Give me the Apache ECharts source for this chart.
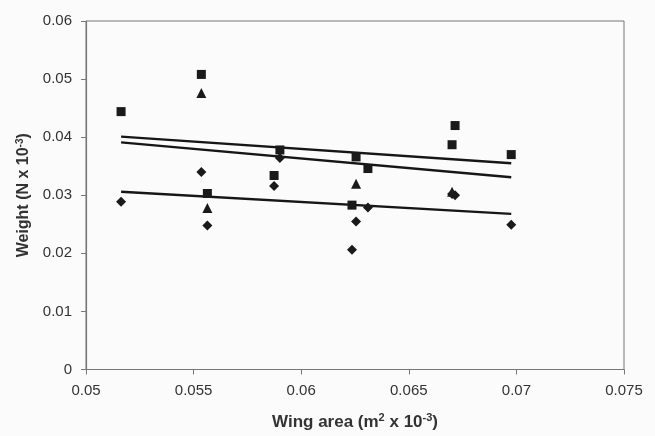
<!DOCTYPE html>
<html>
<head>
<meta charset="utf-8">
<script src="https://cdn.jsdelivr.net/npm/echarts@6/dist/echarts.min.js"></script>
<style>
html,body{margin:0;padding:0;background:#fbfbfb;}
#c{width:655px;height:436px;}
</style>
</head>
<body>
<div id="c"></div>
<script>
// Wing area (m^2 x 10^-3) and weight (N x 10^-3)
const squareData = [
  [0.05163, 0.0444], [0.05536, 0.0508], [0.05564, 0.0303], [0.05874, 0.0334],
  [0.05901, 0.0378], [0.06236, 0.0283], [0.06255, 0.0366], [0.06310, 0.0346],
  [0.06701, 0.0387], [0.06715, 0.0420], [0.06976, 0.0370]
];
const triangleData = [
  [0.05536, 0.0476], [0.05564, 0.0278], [0.06255, 0.0320], [0.06701, 0.0306]
];
const diamondData = [
  [0.05163, 0.0289], [0.05536, 0.0340], [0.05564, 0.0248], [0.05874, 0.0316],
  [0.05901, 0.0364], [0.06236, 0.0206], [0.06255, 0.0255], [0.06310, 0.0279],
  [0.06701, 0.0302], [0.06715, 0.0300], [0.06976, 0.0249]
];
const trendSquare = [[0.05163, 0.0401], [0.06976, 0.0355]];
const trendTriangle = [[0.05163, 0.0391], [0.06976, 0.0331]];
const trendDiamond = [[0.05163, 0.0306], [0.06976, 0.0268]];
const xTicks = [0.05, 0.055, 0.06, 0.065, 0.07, 0.075];
const yTicks = [0, 0.01, 0.02, 0.03, 0.04, 0.05, 0.06];

const axisCol = '#777';
const txtCol = '#333';
const font = 'Liberation Sans, Arial, sans-serif';
const markCol = '#1a1a1a';

function lineSeries(d) {
  return { type: 'line', data: d, symbol: 'none', silent: true, z: 2,
    lineStyle: { color: '#161616', width: 2.4 } };
}
function scatter(d, sym, size) {
  return { type: 'scatter', data: d, symbol: sym, symbolSize: size, z: 5,
    itemStyle: { color: markCol, opacity: 1 } };
}
function richName(fs) {
  return { rich: {
    b: { fontFamily: font, fontSize: fs, fontWeight: 'bold', color: txtCol },
    s: { fontFamily: font, fontSize: Math.round(fs * 0.62), fontWeight: 'bold', color: txtCol,
         verticalAlign: 'bottom', padding: [0, 0, Math.round(fs * 0.5), 0] }
  } };
}

const chart = echarts.init(document.getElementById('c'));
chart.setOption({
  backgroundColor: '#fbfbfb',
  animation: false,
  grid: { left: 86, right: 31, top: 21, bottom: 66, show: true,
    borderColor: axisCol, borderWidth: 1, backgroundColor: 'transparent' },
  xAxis: {
    type: 'value', min: xTicks[0], max: xTicks[xTicks.length - 1], interval: 0.005,
    axisLine: { show: true, lineStyle: { color: axisCol, width: 1.2 } },
    axisTick: { show: true, inside: false, length: 5, lineStyle: { color: axisCol } },
    splitLine: { show: false },
    axisLabel: { color: txtCol, fontFamily: font, fontSize: 15, margin: 14,
      formatter: v => String(+v.toFixed(3)) },
    name: '{b|Wing area (m}{s|2}{b| x 10}{s|-3}{b|)}',
    nameLocation: 'middle', nameGap: 43,
    nameTextStyle: richName(17)
  },
  yAxis: {
    type: 'value', min: yTicks[0], max: yTicks[yTicks.length - 1], interval: 0.01,
    axisLine: { show: true, lineStyle: { color: axisCol, width: 1.2 } },
    axisTick: { show: true, inside: false, length: 5, lineStyle: { color: axisCol } },
    splitLine: { show: false },
    axisLabel: { color: txtCol, fontFamily: font, fontSize: 15, margin: 14,
      formatter: v => String(+v.toFixed(2)) },
    name: '{b|Weight (N x 10}{s|-3}{b|)}',
    nameLocation: 'middle', nameGap: 48, nameRotate: 90,
    nameTextStyle: richName(16)
  },
  series: [
    lineSeries(trendSquare),
    lineSeries(trendTriangle),
    lineSeries(trendDiamond),
    scatter(diamondData, 'diamond', 10),
    scatter(squareData, 'rect', 9),
    scatter(triangleData, 'triangle', 10)
  ]
});
</script>
</body>
</html>
